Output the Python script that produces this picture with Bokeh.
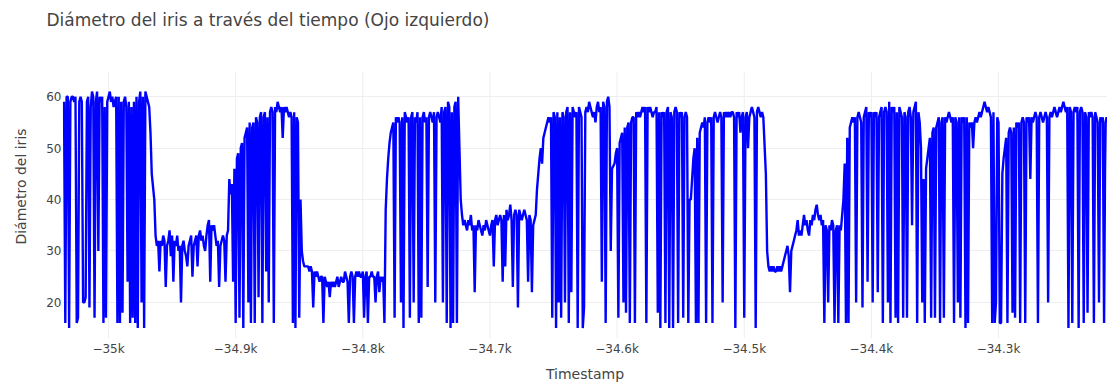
import numpy as np
from bokeh.plotting import figure
from bokeh.models import FixedTicker, CustomJSTickFormatter, Range1d
from bokeh.embed import file_html
from bokeh.resources import INLINE

# --- data ---
# start timestamp of each stretch of samples (samples are 1 unit apart)
seg_starts = [-35035, -34964, -34904, -34844, -34782, -34723, -34663,
              -34602, -34542, -34483, -34422, -34361, -34298]

seg_a = [59, 16, 60, 60, 15, 59, 60, 60, 59, 60,
         16, 17, 59, 60, 59, 20, 20, 21, 59, 60,
         19, 58, 61, 60, 17, 59, 61, 30, 60, 59,
         60, 16, 58, 17, 59, 60, 61, 59, 60, 58,
         59, 60, 16, 60, 16, 59, 18, 59, 60, 58,
         24, 59, 16, 58, 17, 59, 16, 60, 15, 59,
         61, 20, 60, 15, 61, 60, 59, 58, 53, 45]
seg_b = [40, 33, 31, 32, 26, 32, 31, 33, 32, 23,
         31, 32, 34, 29, 33, 24, 32, 31, 33, 30,
         31, 20, 31, 32, 30, 29, 27, 31, 32, 33,
         25, 31, 32, 33, 27, 33, 34, 32, 33, 31,
         30, 33, 35, 36, 24, 35, 34, 35, 33, 31,
         32, 23, 31, 32, 33, 32, 24, 33, 34, 44]
seg_c = [41, 43, 24, 46, 16, 48, 49, 17, 50, 51,
         15, 52, 53, 54, 20, 55, 16, 54, 55, 16,
         56, 55, 21, 56, 57, 16, 56, 57, 26, 56,
         20, 57, 58, 57, 16, 58, 57, 59, 58, 57,
         58, 52, 58, 57, 58, 57, 56, 57, 56, 16,
         57, 15, 56, 55, 17, 40, 30, 28, 27, 27]
seg_d = [27, 27, 26, 27, 26, 19, 26, 25, 26, 25,
         24, 25, 25, 16, 25, 24, 23, 24, 21, 24,
         23, 24, 23, 24, 25, 23, 24, 25, 24, 24,
         26, 25, 24, 16, 25, 26, 25, 16, 25, 26,
         25, 26, 25, 25, 26, 17, 25, 26, 16, 25,
         25, 26, 25, 25, 20, 25, 26, 22, 25, 24,
         25, 16]
seg_e = [38, 44, 48, 51, 53, 54, 55, 17, 56, 55,
         56, 55, 20, 56, 15, 57, 56, 55, 56, 17,
         56, 57, 20, 56, 55, 57, 16, 56, 17, 56,
         57, 55, 56, 23, 56, 57, 56, 55, 57, 20,
         56, 57, 56, 55, 58, 20, 57, 58, 16, 59,
         58, 15, 57, 16, 58, 59, 16, 60]
seg_f = [40, 37, 35, 36, 35, 34, 36, 35, 37, 34,
         35, 22, 35, 34, 36, 35, 34, 33, 35, 34,
         36, 35, 34, 33, 35, 36, 27, 36, 37, 35,
         36, 37, 36, 24, 37, 27, 38, 36, 37, 39,
         36, 23, 37, 38, 37, 19, 38, 37, 36, 37,
         38, 37, 36, 24, 37, 36, 22, 35, 36, 37]
seg_g = [42, 45, 48, 50, 47, 52, 53, 54, 55, 56,
         55, 56, 17, 57, 56, 15, 57, 20, 56, 17,
         57, 56, 20, 57, 58, 16, 57, 22, 58, 57,
         56, 57, 15, 58, 57, 56, 15, 19, 57, 58,
         57, 59, 58, 57, 56, 57, 55, 58, 59, 57,
         58, 24, 59, 58, 16, 59, 60, 58, 30, 46]
seg_h = [47, 49, 50, 17, 51, 52, 53, 20, 54, 18,
         54, 55, 16, 55, 56, 56, 16, 57, 56, 57,
         56, 57, 58, 57, 58, 16, 58, 57, 58, 57,
         56, 57, 57, 58, 18, 57, 15, 57, 56, 57,
         16, 57, 58, 15, 57, 56, 15, 57, 58, 57,
         16, 57, 56, 57, 17, 56, 57, 56, 16, 40]
seg_i = [40, 44, 48, 50, 16, 52, 16, 53, 54, 55,
         54, 56, 16, 55, 56, 55, 56, 16, 56, 57,
         56, 55, 56, 57, 56, 20, 57, 56, 57, 56,
         57, 56, 57, 57, 56, 15, 57, 56, 57, 53,
         56, 57, 17, 56, 57, 50, 56, 57, 58, 57,
         56, 15, 57, 58, 57, 56, 57, 56]
seg_j = [45, 30, 27, 26, 27, 26, 27, 26, 26, 27,
         26, 27, 26, 27, 28, 29, 30, 31, 29, 22,
         30, 31, 32, 33, 34, 36, 33, 34, 33, 35,
         37, 35, 36, 34, 33, 36, 35, 37, 36, 38,
         39, 37, 36, 37, 35, 36, 16, 35, 34, 20,
         35, 34, 36, 35, 16, 34, 35, 16, 35, 34]
seg_k1 = [40, 47, 16, 52, 16, 54, 55, 56, 55, 56,
          20, 56, 57, 56, 55, 19, 56, 57, 58, 24,
          57, 56, 57, 20, 57, 56, 57, 22, 56, 57,
          58, 16, 57, 58, 57, 20, 59, 16, 58, 57,
          58, 17, 57, 16, 58, 57, 56, 17, 57, 56,
          17, 57, 58, 56, 35, 57, 58, 59, 16, 57,
          55]
seg_k2 = [50, 20, 44, 16, 46, 48, 50, 52, 17, 53,
          54, 17, 54, 55, 56, 16, 55, 56, 17, 56,
          55, 56, 57, 56, 55, 56, 16, 56, 55, 20,
          56, 17, 56, 55, 56, 15, 56, 16, 55, 54,
          55, 50, 55, 56, 55, 56, 57, 56, 57, 58,
          59, 58, 57, 58, 57, 56, 16, 57, 16, 20,
          56, 55, 16]
seg_k3 = [16, 45, 48, 50, 52, 16, 53, 54, 53, 18,
          54, 17, 55, 54, 55, 16, 55, 56, 55, 16,
          56, 55, 56, 44, 56, 55, 56, 57, 56, 16,
          56, 57, 56, 55, 56, 57, 56, 20, 56, 57,
          56, 57, 58, 57, 56, 57, 58, 57, 58, 59,
          58, 57, 58, 15, 58, 57, 16, 57, 58, 57,
          58, 15, 57, 58, 57, 16, 57, 56, 18, 57,
          56, 57, 56, 16, 57, 56, 55, 20, 56, 55,
          56, 16, 55, 56, 55, 20, 56, 55, 56, 16,
          55]

x_ticks = [-35000, -34900, -34800, -34700, -34600, -34500, -34400, -34300]
y_ticks = [20, 30, 40, 50, 60]
title_text = "Diámetro del iris a través del tiempo (Ojo izquierdo)"

segments = [seg_a, seg_b, seg_c, seg_d, seg_e, seg_f, seg_g,
            seg_h, seg_i, seg_j, seg_k1, seg_k2, seg_k3]
xs, ys = [], []
for s0, seg in zip(seg_starts, segments):
    xs.extend(range(s0, s0 + len(seg)))
    ys.extend(seg)

FONT = "DejaVu Sans"
TXT = "#444444"

# plotting area of the data (y) and the extra headroom that holds the title
Y_LO, Y_HI, Y_TOP = 12.98, 64.88, 72.1

p = figure(width=1107, height=384, output_backend="svg", toolbar_location=None,
           x_range=Range1d(-35036.2, -34214.3), y_range=Range1d(Y_LO, Y_TOP),
           min_border_left=62, min_border_right=0, min_border_top=34,
           min_border_bottom=43)
p.outline_line_color = None
p.background_fill_color = "white"
p.border_fill_color = "white"

p.title.text = title_text
p.title.text_font = FONT
p.title.text_font_size = "17px"
p.title.text_font_style = "normal"
p.title.text_color = TXT
p.title.align = "left"
p.title.offset = -16
p.title.standoff = 10

# vertical grid lines limited to the data area
p.xgrid.visible = False
p.segment(x0=x_ticks, y0=[Y_LO] * len(x_ticks), x1=x_ticks, y1=[Y_HI] * len(x_ticks),
          line_color="#eeeeee", line_width=1)

p.line(xs, ys, line_color="#0000ff", line_width=2.4)

p.xaxis.ticker = FixedTicker(ticks=x_ticks)
p.yaxis.ticker = FixedTicker(ticks=y_ticks)
p.xaxis.formatter = CustomJSTickFormatter(
    code="var v = Math.abs(tick)/1000; return (tick < 0 ? '\\u2212' : '') + (Math.round(v*10)/10) + 'k';")

for ax in (p.xaxis[0], p.yaxis[0]):
    ax.axis_line_color = None
    ax.major_tick_line_color = None
    ax.minor_tick_line_color = None
    ax.major_tick_out = 0
    ax.major_tick_in = 0
    ax.minor_tick_out = 0
    ax.minor_tick_in = 0
    ax.major_label_text_font = FONT
    ax.major_label_text_font_size = "12px"
    ax.major_label_text_color = TXT
    ax.axis_label_text_font = FONT
    ax.axis_label_text_font_size = "14px"
    ax.axis_label_text_font_style = "normal"
    ax.axis_label_text_color = TXT

p.xaxis.axis_label = "Timestamp"
p.yaxis.axis_label = "Diámetro del iris"
p.xaxis.major_label_standoff = 3
p.yaxis.major_label_standoff = 1
p.xaxis.axis_label_standoff = 7
p.yaxis.axis_label_standoff = 14

p.ygrid.grid_line_color = "#eeeeee"
p.ygrid.grid_line_width = 1

open("out.html", "w").write(file_html(p, INLINE))
